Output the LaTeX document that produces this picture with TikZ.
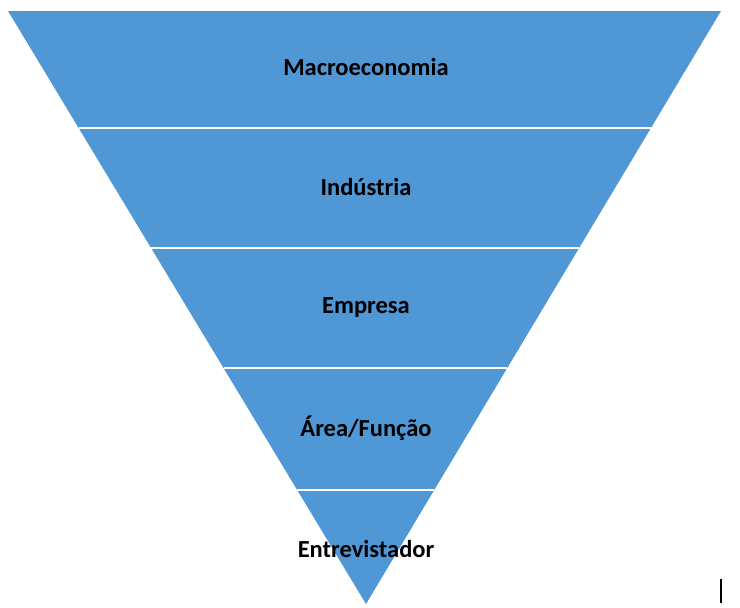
\documentclass[tikz,border=0pt]{standalone}
\usepackage{fontspec}
\setmainfont{Carlito}
\usetikzlibrary{calc}
\definecolor{funnelblue}{RGB}{80,151,213}

\begin{document}
\begin{tikzpicture}[
  x=1pt,y=-1pt,
  level/.style={font=\fontsize{24.5}{28}\selectfont\bfseries,text=black},
  divider/.style={white,line width=1.6pt}
]
  \useasboundingbox (0,0) rectangle (740,608);
  \coordinate (tl) at (8,11);
  \coordinate (tr) at (721,11);
  \coordinate (apex) at (366,604);
  \fill[funnelblue] (tl) -- (tr) -- (apex) -- cycle;
  % divisions between the levels
  \foreach \t in {0.1973,0.3997,0.602,0.8078}
    \draw[divider] ($(tl)!\t!(apex)$) -- ($(tr)!\t!(apex)$);
  \node[level] (macro) at (366,67) {Macroeconomia};
  \node[level] (industria) at (366,187) {Indústria};
  \node[level] (empresa) at (366,307) {Empresa};
  \node[level] (area) at (366,428) {Área/Função};
  \node[level] (entrevistador) at (366,549) {Entrevistador};
  \draw[black,line width=2pt] (721,579) -- (721,603);
\end{tikzpicture}
\end{document}
